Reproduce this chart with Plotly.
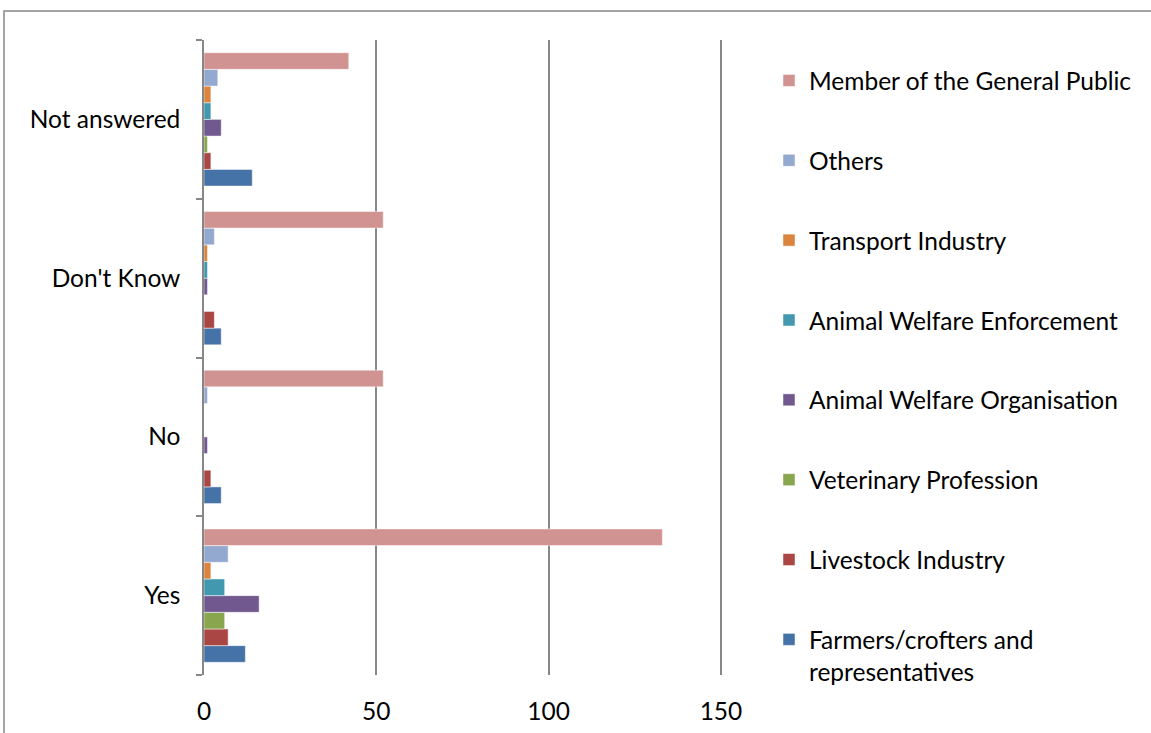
import plotly.graph_objects as go

categories = ["Yes", "No", "Don't Know", "Not answered"]

# respondent groups, listed bottom-to-top within each category
groups = [
    "Farmers/crofters and<br>representatives",
    "Livestock Industry",
    "Veterinary Profession",
    "Animal Welfare Organisation",
    "Animal Welfare Enforcement",
    "Transport Industry",
    "Others",
    "Member of the General Public",
]

farmers = [12, 5, 5, 14]
livestock = [7, 2, 3, 2]
veterinary = [6, 0, 0, 1]
aw_organisation = [16, 1, 1, 5]
aw_enforcement = [6, 0, 1, 2]
transport = [2, 0, 1, 2]
others = [7, 1, 3, 4]
general_public = [133, 52, 52, 42]

series = [farmers, livestock, veterinary, aw_organisation,
          aw_enforcement, transport, others, general_public]

colors = ["#4572A7", "#AA4643", "#89A54E", "#71588F",
          "#4198AF", "#DB843D", "#93A9CF", "#D19392"]

FONT = "Lato"
FS = 24.5
W, H = 1151, 733
L, R, T, B = 204, 429, 40, 58

fig = go.Figure()
n = len(groups)
for i, (name, vals, col) in enumerate(zip(groups, series, colors)):
    fig.add_trace(go.Bar(
        y=categories, x=vals, name=name, orientation="h",
        marker=dict(color=col, line=dict(color="rgba(255,255,255,0.6)", width=0.8)),
        legendgroup=name, legendrank=n - i,
    ))

pw = W - L - R
ph = H - T - B

fig.update_layout(
    width=W, height=H,
    margin=dict(l=L, r=R, t=T, b=B, autoexpand=False),
    paper_bgcolor="white", plot_bgcolor="white",
    barmode="group", bargap=0.16, bargroupgap=0,
    font=dict(family=FONT, size=FS, color="black"),
    xaxis=dict(
        range=[0, 150.3], tickvals=[0, 50, 100, 150],
        showgrid=True, gridcolor="#878787", gridwidth=1.5,
        zeroline=False, showline=False,
        ticks="", ticklabelstandoff=19,
        tickfont=dict(family=FONT, size=FS),
    ),
    yaxis=dict(
        categoryorder="array", categoryarray=categories,
        showline=True, linecolor="#878787", linewidth=1.5,
        ticks="outside", ticklen=6, tickcolor="#878787", tickwidth=1.5,
        tickson="boundaries", ticklabelstandoff=17,
        showgrid=False, tickfont=dict(family=FONT, size=FS),
    ),
    legend=dict(
        traceorder="grouped", tracegroupgap=45, maxheight=730,
        xref="container", yref="container",
        x=769 / W, y=1 - 58 / H, xanchor="left", yanchor="top",
        valign="top", font=dict(family=FONT, size=FS),
        bgcolor="rgba(0,0,0,0)", itemclick=False,
    ),
    showlegend=True,
    shapes=[dict(
        type="rect", xref="paper", yref="paper",
        x0=(4 - L) / pw, x1=(W + 20 - L) / pw,
        y0=-(B + 20) / ph, y1=1 + (T - 11) / ph,
        line=dict(color="#878787", width=1.5), fillcolor="rgba(0,0,0,0)",
        layer="below",
    )],
)

fig.write_html("out.html")
